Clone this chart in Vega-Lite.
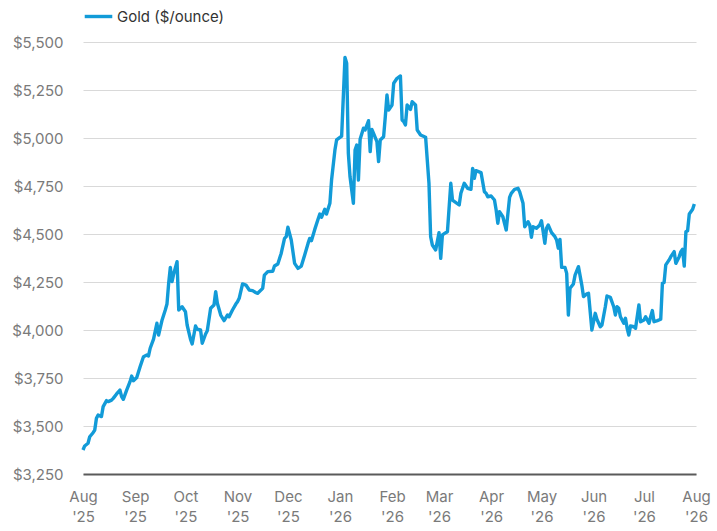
{
  "$schema": "https://vega.github.io/schema/vega-lite/v6.json",
  "width": 613,
  "height": 432,
  "autosize": {"type": "none"},
  "padding": {"left": 83, "top": 42, "right": 21, "bottom": 57},
  "background": "white",
  "data": {
    "values": [
      {"date": "2025-08-01", "price": 3375}, {"date": "2025-08-02", "price": 3396}, {"date": "2025-08-04", "price": 3410},
      {"date": "2025-08-05", "price": 3444}, {"date": "2025-08-07", "price": 3465}, {"date": "2025-08-08", "price": 3479},
      {"date": "2025-08-09", "price": 3540}, {"date": "2025-08-10", "price": 3557}, {"date": "2025-08-12", "price": 3549},
      {"date": "2025-08-13", "price": 3601}, {"date": "2025-08-15", "price": 3632}, {"date": "2025-08-16", "price": 3627},
      {"date": "2025-08-18", "price": 3635}, {"date": "2025-08-19", "price": 3644}, {"date": "2025-08-21", "price": 3667},
      {"date": "2025-08-23", "price": 3687}, {"date": "2025-08-24", "price": 3653}, {"date": "2025-08-25", "price": 3639},
      {"date": "2025-08-27", "price": 3687}, {"date": "2025-08-29", "price": 3731}, {"date": "2025-08-30", "price": 3760},
      {"date": "2025-08-31", "price": 3736}, {"date": "2025-09-02", "price": 3753}, {"date": "2025-09-04", "price": 3809},
      {"date": "2025-09-06", "price": 3861}, {"date": "2025-09-08", "price": 3870}, {"date": "2025-09-09", "price": 3865},
      {"date": "2025-09-10", "price": 3905}, {"date": "2025-09-12", "price": 3952}, {"date": "2025-09-14", "price": 4035},
      {"date": "2025-09-15", "price": 3974}, {"date": "2025-09-17", "price": 4049}, {"date": "2025-09-19", "price": 4104},
      {"date": "2025-09-20", "price": 4135}, {"date": "2025-09-21", "price": 4243}, {"date": "2025-09-22", "price": 4326},
      {"date": "2025-09-23", "price": 4252}, {"date": "2025-09-24", "price": 4292}, {"date": "2025-09-26", "price": 4356},
      {"date": "2025-09-27", "price": 4104}, {"date": "2025-09-29", "price": 4121}, {"date": "2025-10-01", "price": 4095},
      {"date": "2025-10-02", "price": 4026}, {"date": "2025-10-04", "price": 3952}, {"date": "2025-10-05", "price": 3927},
      {"date": "2025-10-07", "price": 4021}, {"date": "2025-10-08", "price": 4004}, {"date": "2025-10-10", "price": 4000},
      {"date": "2025-10-11", "price": 3931}, {"date": "2025-10-13", "price": 3979}, {"date": "2025-10-14", "price": 3996},
      {"date": "2025-10-16", "price": 4113}, {"date": "2025-10-18", "price": 4130}, {"date": "2025-10-19", "price": 4200},
      {"date": "2025-10-20", "price": 4139}, {"date": "2025-10-22", "price": 4078}, {"date": "2025-10-24", "price": 4049},
      {"date": "2025-10-26", "price": 4078}, {"date": "2025-10-27", "price": 4069}, {"date": "2025-10-29", "price": 4104},
      {"date": "2025-10-31", "price": 4135}, {"date": "2025-11-01", "price": 4147}, {"date": "2025-11-02", "price": 4165},
      {"date": "2025-11-04", "price": 4240}, {"date": "2025-11-06", "price": 4234}, {"date": "2025-11-08", "price": 4208},
      {"date": "2025-11-10", "price": 4205}, {"date": "2025-11-12", "price": 4194}, {"date": "2025-11-13", "price": 4191},
      {"date": "2025-11-16", "price": 4217}, {"date": "2025-11-17", "price": 4286}, {"date": "2025-11-19", "price": 4304},
      {"date": "2025-11-22", "price": 4306}, {"date": "2025-11-23", "price": 4333}, {"date": "2025-11-25", "price": 4344},
      {"date": "2025-11-27", "price": 4399}, {"date": "2025-11-29", "price": 4477}, {"date": "2025-11-30", "price": 4486},
      {"date": "2025-12-01", "price": 4535}, {"date": "2025-12-03", "price": 4469}, {"date": "2025-12-05", "price": 4347},
      {"date": "2025-12-07", "price": 4321}, {"date": "2025-12-09", "price": 4333}, {"date": "2025-12-11", "price": 4391},
      {"date": "2025-12-13", "price": 4451}, {"date": "2025-12-14", "price": 4477}, {"date": "2025-12-15", "price": 4465},
      {"date": "2025-12-17", "price": 4524}, {"date": "2025-12-19", "price": 4578}, {"date": "2025-12-20", "price": 4604},
      {"date": "2025-12-21", "price": 4587}, {"date": "2025-12-23", "price": 4629}, {"date": "2025-12-24", "price": 4604},
      {"date": "2025-12-26", "price": 4660}, {"date": "2025-12-27", "price": 4781}, {"date": "2025-12-29", "price": 4937},
      {"date": "2025-12-30", "price": 4990}, {"date": "2026-01-02", "price": 5010}, {"date": "2026-01-04", "price": 5420},
      {"date": "2026-01-05", "price": 5389}, {"date": "2026-01-06", "price": 4920}, {"date": "2026-01-07", "price": 4798},
      {"date": "2026-01-09", "price": 4660}, {"date": "2026-01-10", "price": 4937}, {"date": "2026-01-11", "price": 4963},
      {"date": "2026-01-12", "price": 4781}, {"date": "2026-01-13", "price": 4993}, {"date": "2026-01-15", "price": 5051},
      {"date": "2026-01-16", "price": 5042}, {"date": "2026-01-18", "price": 5090}, {"date": "2026-01-19", "price": 4929},
      {"date": "2026-01-20", "price": 5045}, {"date": "2026-01-21", "price": 5024}, {"date": "2026-01-23", "price": 4981},
      {"date": "2026-01-24", "price": 4877}, {"date": "2026-01-25", "price": 4990}, {"date": "2026-01-27", "price": 5007},
      {"date": "2026-01-28", "price": 5111}, {"date": "2026-01-29", "price": 5224}, {"date": "2026-01-30", "price": 5146},
      {"date": "2026-02-01", "price": 5172}, {"date": "2026-02-02", "price": 5285}, {"date": "2026-02-04", "price": 5311},
      {"date": "2026-02-06", "price": 5323}, {"date": "2026-02-07", "price": 5094}, {"date": "2026-02-08", "price": 5085},
      {"date": "2026-02-09", "price": 5068}, {"date": "2026-02-10", "price": 5172}, {"date": "2026-02-12", "price": 5149},
      {"date": "2026-02-13", "price": 5189}, {"date": "2026-02-15", "price": 5172}, {"date": "2026-02-16", "price": 5042},
      {"date": "2026-02-18", "price": 5016}, {"date": "2026-02-21", "price": 5004}, {"date": "2026-02-23", "price": 4764},
      {"date": "2026-02-24", "price": 4486}, {"date": "2026-02-25", "price": 4443}, {"date": "2026-02-27", "price": 4417},
      {"date": "2026-03-01", "price": 4507}, {"date": "2026-03-02", "price": 4373}, {"date": "2026-03-03", "price": 4495},
      {"date": "2026-03-05", "price": 4507}, {"date": "2026-03-06", "price": 4512}, {"date": "2026-03-08", "price": 4764},
      {"date": "2026-03-09", "price": 4677}, {"date": "2026-03-13", "price": 4651}, {"date": "2026-03-14", "price": 4712},
      {"date": "2026-03-16", "price": 4764}, {"date": "2026-03-18", "price": 4738}, {"date": "2026-03-20", "price": 4733},
      {"date": "2026-03-21", "price": 4842}, {"date": "2026-03-22", "price": 4790}, {"date": "2026-03-23", "price": 4830},
      {"date": "2026-03-26", "price": 4820}, {"date": "2026-03-28", "price": 4720}, {"date": "2026-03-29", "price": 4712},
      {"date": "2026-03-30", "price": 4694}, {"date": "2026-04-01", "price": 4698}, {"date": "2026-04-03", "price": 4677},
      {"date": "2026-04-04", "price": 4625}, {"date": "2026-04-05", "price": 4556}, {"date": "2026-04-06", "price": 4616},
      {"date": "2026-04-08", "price": 4590}, {"date": "2026-04-10", "price": 4521}, {"date": "2026-04-12", "price": 4691},
      {"date": "2026-04-13", "price": 4712}, {"date": "2026-04-15", "price": 4733}, {"date": "2026-04-17", "price": 4738},
      {"date": "2026-04-18", "price": 4720}, {"date": "2026-04-20", "price": 4660}, {"date": "2026-04-21", "price": 4538},
      {"date": "2026-04-23", "price": 4564}, {"date": "2026-04-24", "price": 4547}, {"date": "2026-04-25", "price": 4483},
      {"date": "2026-04-26", "price": 4538}, {"date": "2026-04-28", "price": 4530}, {"date": "2026-04-30", "price": 4547},
      {"date": "2026-05-01", "price": 4569}, {"date": "2026-05-02", "price": 4512}, {"date": "2026-05-03", "price": 4452},
      {"date": "2026-05-04", "price": 4530}, {"date": "2026-05-05", "price": 4547}, {"date": "2026-05-07", "price": 4507},
      {"date": "2026-05-09", "price": 4486}, {"date": "2026-05-10", "price": 4469}, {"date": "2026-05-11", "price": 4426},
      {"date": "2026-05-12", "price": 4472}, {"date": "2026-05-13", "price": 4326}, {"date": "2026-05-15", "price": 4326},
      {"date": "2026-05-16", "price": 4295}, {"date": "2026-05-17", "price": 4078}, {"date": "2026-05-18", "price": 4217},
      {"date": "2026-05-20", "price": 4240}, {"date": "2026-05-21", "price": 4286}, {"date": "2026-05-23", "price": 4330},
      {"date": "2026-05-25", "price": 4234}, {"date": "2026-05-26", "price": 4174}, {"date": "2026-05-28", "price": 4188},
      {"date": "2026-05-29", "price": 4191}, {"date": "2026-05-31", "price": 4000}, {"date": "2026-06-02", "price": 4087},
      {"date": "2026-06-03", "price": 4056}, {"date": "2026-06-05", "price": 4017}, {"date": "2026-06-06", "price": 4026},
      {"date": "2026-06-08", "price": 4121}, {"date": "2026-06-09", "price": 4177}, {"date": "2026-06-11", "price": 4170},
      {"date": "2026-06-13", "price": 4121}, {"date": "2026-06-14", "price": 4078}, {"date": "2026-06-15", "price": 4121},
      {"date": "2026-06-16", "price": 4113}, {"date": "2026-06-17", "price": 4069}, {"date": "2026-06-19", "price": 4035},
      {"date": "2026-06-20", "price": 4061}, {"date": "2026-06-21", "price": 4009}, {"date": "2026-06-22", "price": 3974},
      {"date": "2026-06-23", "price": 4021}, {"date": "2026-06-25", "price": 4017}, {"date": "2026-06-26", "price": 4009},
      {"date": "2026-06-28", "price": 4130}, {"date": "2026-06-29", "price": 4043}, {"date": "2026-07-01", "price": 4052},
      {"date": "2026-07-02", "price": 4069}, {"date": "2026-07-04", "price": 4035}, {"date": "2026-07-05", "price": 4069},
      {"date": "2026-07-06", "price": 4101}, {"date": "2026-07-07", "price": 4043}, {"date": "2026-07-09", "price": 4049},
      {"date": "2026-07-11", "price": 4056}, {"date": "2026-07-12", "price": 4243}, {"date": "2026-07-13", "price": 4247},
      {"date": "2026-07-14", "price": 4339}, {"date": "2026-07-16", "price": 4365}, {"date": "2026-07-17", "price": 4382},
      {"date": "2026-07-19", "price": 4408}, {"date": "2026-07-20", "price": 4347}, {"date": "2026-07-22", "price": 4382},
      {"date": "2026-07-23", "price": 4408}, {"date": "2026-07-24", "price": 4420}, {"date": "2026-07-25", "price": 4333},
      {"date": "2026-07-26", "price": 4512}, {"date": "2026-07-27", "price": 4517}, {"date": "2026-07-28", "price": 4604},
      {"date": "2026-07-30", "price": 4629}, {"date": "2026-07-31", "price": 4656}
    ]
  },
  "mark": {"type": "line", "strokeWidth": 3.4, "strokeJoin": "round"},
  "encoding": {
    "x": {
      "field": "date",
      "type": "temporal",
      "scale": {
        "type": "utc",
        "domain": [
          {"year": 2025, "month": 8, "date": 1, "utc": true},
          {"year": 2026, "month": 8, "date": 1, "utc": true}
        ]
      },
      "axis": {
        "title": null,
        "tickCount": "month",
        "labelExpr": "[utcFormat(datum.value, '%b'), \"'\" + utcFormat(datum.value, '%y')]",
        "labelLineHeight": 20,
        "labelPadding": 15,
        "labelFlush": false,
        "labelOverlap": false,
        "ticks": false,
        "grid": false,
        "domainColor": "#5a5a5a",
        "domainWidth": 2
      }
    },
    "y": {
      "field": "price",
      "type": "quantitative",
      "scale": {"domain": [3250, 5500], "nice": false, "zero": false},
      "axis": {
        "title": null,
        "values": [3250, 3500, 3750, 4000, 4250, 4500, 4750, 5000, 5250, 5500],
        "format": "$,.0f",
        "labelPadding": 20,
        "ticks": false,
        "domain": false,
        "gridColor": "#d9d9d9",
        "gridWidth": 1.2
      }
    },
    "color": {
      "datum": "Gold ($/ounce)",
      "scale": {"range": ["#129bd8"]},
      "legend": {
        "title": null,
        "orient": "none",
        "legendX": 0,
        "legendY": -41,
        "symbolType": "stroke",
        "symbolStrokeWidth": 3.4,
        "symbolSize": 760,
        "labelFontSize": 15,
        "labelColor": "#333333",
        "labelOffset": 3
      }
    }
  },
  "config": {
    "font": "Inter",
    "view": {"stroke": null},
    "axis": {
      "labelFontSize": 15,
      "labelColor": "#7a7a7a"
    }
  }
}
